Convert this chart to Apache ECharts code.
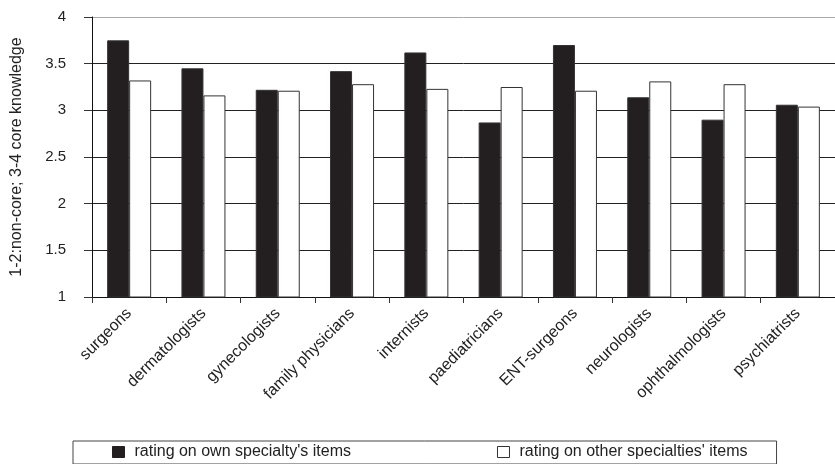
<!DOCTYPE html>
<html>
<head>
<meta charset="utf-8">
<script src="https://cdn.jsdelivr.net/npm/echarts@6/dist/echarts.min.js"></script>
<style>
html,body{margin:0;padding:0;background:#fff;}
#chart{width:835px;height:464px;}
</style>
</head>
<body>
<div id="chart"></div>
<script>
const categories = ['surgeons','dermatologists','gynecologists','family physicians','internists','paediatricians','ENT-surgeons','neurologists','ophthalmologists','psychiatrists'];
const ownRating = [3.75,3.45,3.22,3.42,3.62,2.87,3.70,3.14,2.90,3.06];
const otherRating = [3.32,3.16,3.21,3.28,3.23,3.25,3.21,3.31,3.28,3.04];
const seriesNames = ["rating on own specialty's items", "rating on other specialties' items"];
const yAxisTitle = '1-2:non-core; 3-4 core knowledge';

const chart = echarts.init(document.getElementById('chart'), null, {renderer:'canvas'});
const font = 'Liberation Sans, Arial, Helvetica, sans-serif';
chart.setOption({
  animation: false,
  backgroundColor: '#fff',
  grid: {left: 92, top: 17, right: -12, bottom: 167, containLabel: false},
  legend: {
    left: 73, top: 441,
    padding: [3, 29, 4, 39],
    itemGap: 146,
    itemWidth: 12, itemHeight: 11,
    borderColor: '#444', borderWidth: 1,
    textStyle: {fontFamily: font, fontSize: 16, color: '#222', padding: [0,0,0,5]},
    data: [
      {name: seriesNames[0], icon: 'rect', itemStyle: {color: '#231f20', borderColor: '#231f20', borderWidth: 1}},
      {name: seriesNames[1], icon: 'rect', itemStyle: {color: '#fff', borderColor: '#333', borderWidth: 1}}
    ]
  },
  xAxis: {
    type: 'category',
    data: categories,
    axisLine: {lineStyle: {color: '#111', width: 1}},
    axisTick: {show: true, alignWithLabel: false, length: 6, lineStyle: {color: '#333'}},
    axisLabel: {rotate: 45, margin: 14, interval: 0, fontFamily: font, fontSize: 16, color: '#222'},
    splitLine: {show: false}
  },
  yAxis: {
    type: 'value',
    min: 1, max: 4, interval: 0.5,
    name: yAxisTitle,
    nameLocation: 'middle',
    nameRotate: 90,
    nameGap: 67,
    nameTextStyle: {fontFamily: font, fontSize: 16, color: '#222'},
    axisLine: {show: true, lineStyle: {color: '#111', width: 1}},
    axisTick: {show: true, length: 8, lineStyle: {color: '#333'}},
    axisLabel: {margin: 26, fontFamily: 'Liberation Sans Narrow, Arial Narrow, Liberation Sans, Arial, sans-serif', fontSize: 15, color: '#222'},
    splitLine: {show: true, lineStyle: {color: ['#222','#222','#222','#222','#222','#222','#aaa'], width: 1}}
  },
  series: [
    {
      name: seriesNames[0], type: 'bar', data: ownRating,
      barWidth: 22, barGap: '0%',
      itemStyle: {color: '#231f20', borderColor: '#333', borderWidth: 1}
    },
    {
      name: seriesNames[1], type: 'bar', data: otherRating,
      barWidth: 22, barGap: '0%',
      itemStyle: {color: '#fff', borderColor: '#333', borderWidth: 1}
    }
  ]
});
</script>
</body>
</html>
